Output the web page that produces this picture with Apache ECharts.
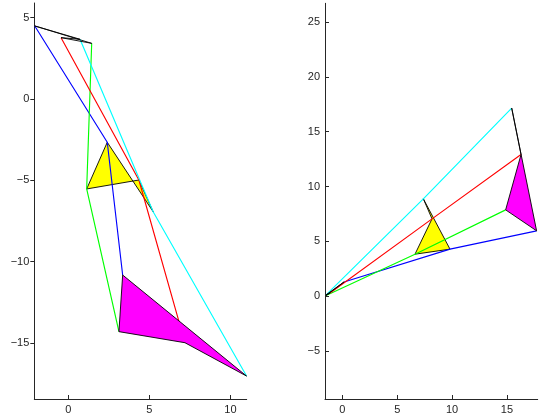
<!DOCTYPE html>
<html>
<head>
<meta charset="utf-8">
<script src="https://cdn.jsdelivr.net/npm/echarts@6/dist/echarts.min.js"></script>
<style>
html,body{margin:0;padding:0;background:#fff;}
#chart{width:540px;height:417px;}
</style>
</head>
<body>
<div id="chart"></div>
<script>
// Vertex order in every polygon: [blue, green, red, cyan]
const rayColors = ['#0000ff', '#00ff00', '#ff0000', '#00ffff'];

// Left view
const leftFrame   = [[-2.07, 4.49], [1.44, 3.42], [-0.45, 3.77], [0.72, 3.67]];
const leftYellow  = [[2.40, -2.66], [1.13, -5.53], [4.35, -4.98], [5.23, -6.93]];
const leftMagenta = [[3.35, -10.82], [3.12, -14.30], [7.19, -14.98], [10.99, -17.03]];

// Right view
const rightFrame   = [[0.15, 1.30], [-1.48, 0.07], [-1.12, 0.30], [-1.48, 0.12]];
const rightYellow  = [[9.81, 4.29], [6.62, 3.83], [8.17, 7.05], [7.38, 8.88]];
const rightMagenta = [[17.70, 5.96], [14.88, 7.87], [16.28, 12.91], [15.43, 17.15]];

// Tick labels
const leftXTicks  = [0, 5, 10];
const leftYTicks  = [-15, -10, -5, 0, 5];
const rightXTicks = [0, 5, 10, 15];
const rightYTicks = [-5, 0, 5, 10, 15, 20, 25];

const chart = echarts.init(document.getElementById('chart'), null, {renderer: 'canvas'});

const fmt = v => String(v).replace('-', '\u2212');
const axisColor = '#262626';

function makeAxis(idx, min, max, ticks, isX, tickInside) {
  return {
    type: 'value', gridIndex: idx, min: min, max: max,
    position: isX ? 'bottom' : 'left',
    axisLine: {show: true, onZero: false, lineStyle: {color: axisColor, width: 1}},
    axisTick: {show: true, inside: tickInside, length: 4, customValues: ticks, lineStyle: {color: axisColor}},
    axisLabel: {show: true, customValues: ticks, formatter: fmt, color: axisColor,
      fontFamily: 'Liberation Sans, Arial, sans-serif', fontSize: 11, margin: 5},
    splitLine: {show: false}
  };
}

function polygonSeries(idx, verts, fill, z) {
  return {
    type: 'custom', xAxisIndex: idx, yAxisIndex: idx, z: z, clip: false,
    data: [0],
    renderItem: function (params, api) {
      const pts = verts.map(v => api.coord(v));
      return {
        type: 'polygon',
        shape: {points: pts},
        style: {fill: fill, stroke: '#000', lineWidth: 0.9}
      };
    },
    silent: true
  };
}

function raySeries(idx, frame, yellow, magenta) {
  return rayColors.map((c, i) => ({
    type: 'line', xAxisIndex: idx, yAxisIndex: idx, z: 3,
    data: [frame[i], yellow[i], magenta[i]],
    showSymbol: false, symbol: 'none', silent: true, animation: false,
    lineStyle: {color: c, width: 1.15}
  }));
}

const series = [];
[[0, leftFrame, leftYellow, leftMagenta], [1, rightFrame, rightYellow, rightMagenta]].forEach(([idx, f, y, m]) => {
  series.push(polygonSeries(idx, y, '#ffff00', 2));
  raySeries(idx, f, y, m).forEach(s => series.push(s));
  series.push(polygonSeries(idx, m, '#ff00ff', 4));
  series.push(polygonSeries(idx, f, 'none', 5));
});

chart.setOption({
  animation: false,
  backgroundColor: '#ffffff',
  grid: [
    {left: 34.3, top: 3, width: 212.4, height: 396},
    {left: 325, top: 3.3, width: 212.7, height: 395.7}
  ],
  xAxis: [
    makeAxis(0, -2.1, 11.0, leftXTicks, true, true),
    makeAxis(1, -1.58, 17.8, rightXTicks, true, true)
  ],
  yAxis: [
    makeAxis(0, -18.44, 5.9, leftYTicks, false, false),
    makeAxis(1, -9.37, 26.7, rightYTicks, false, true)
  ],
  series: series
});
</script>
</body>
</html>
